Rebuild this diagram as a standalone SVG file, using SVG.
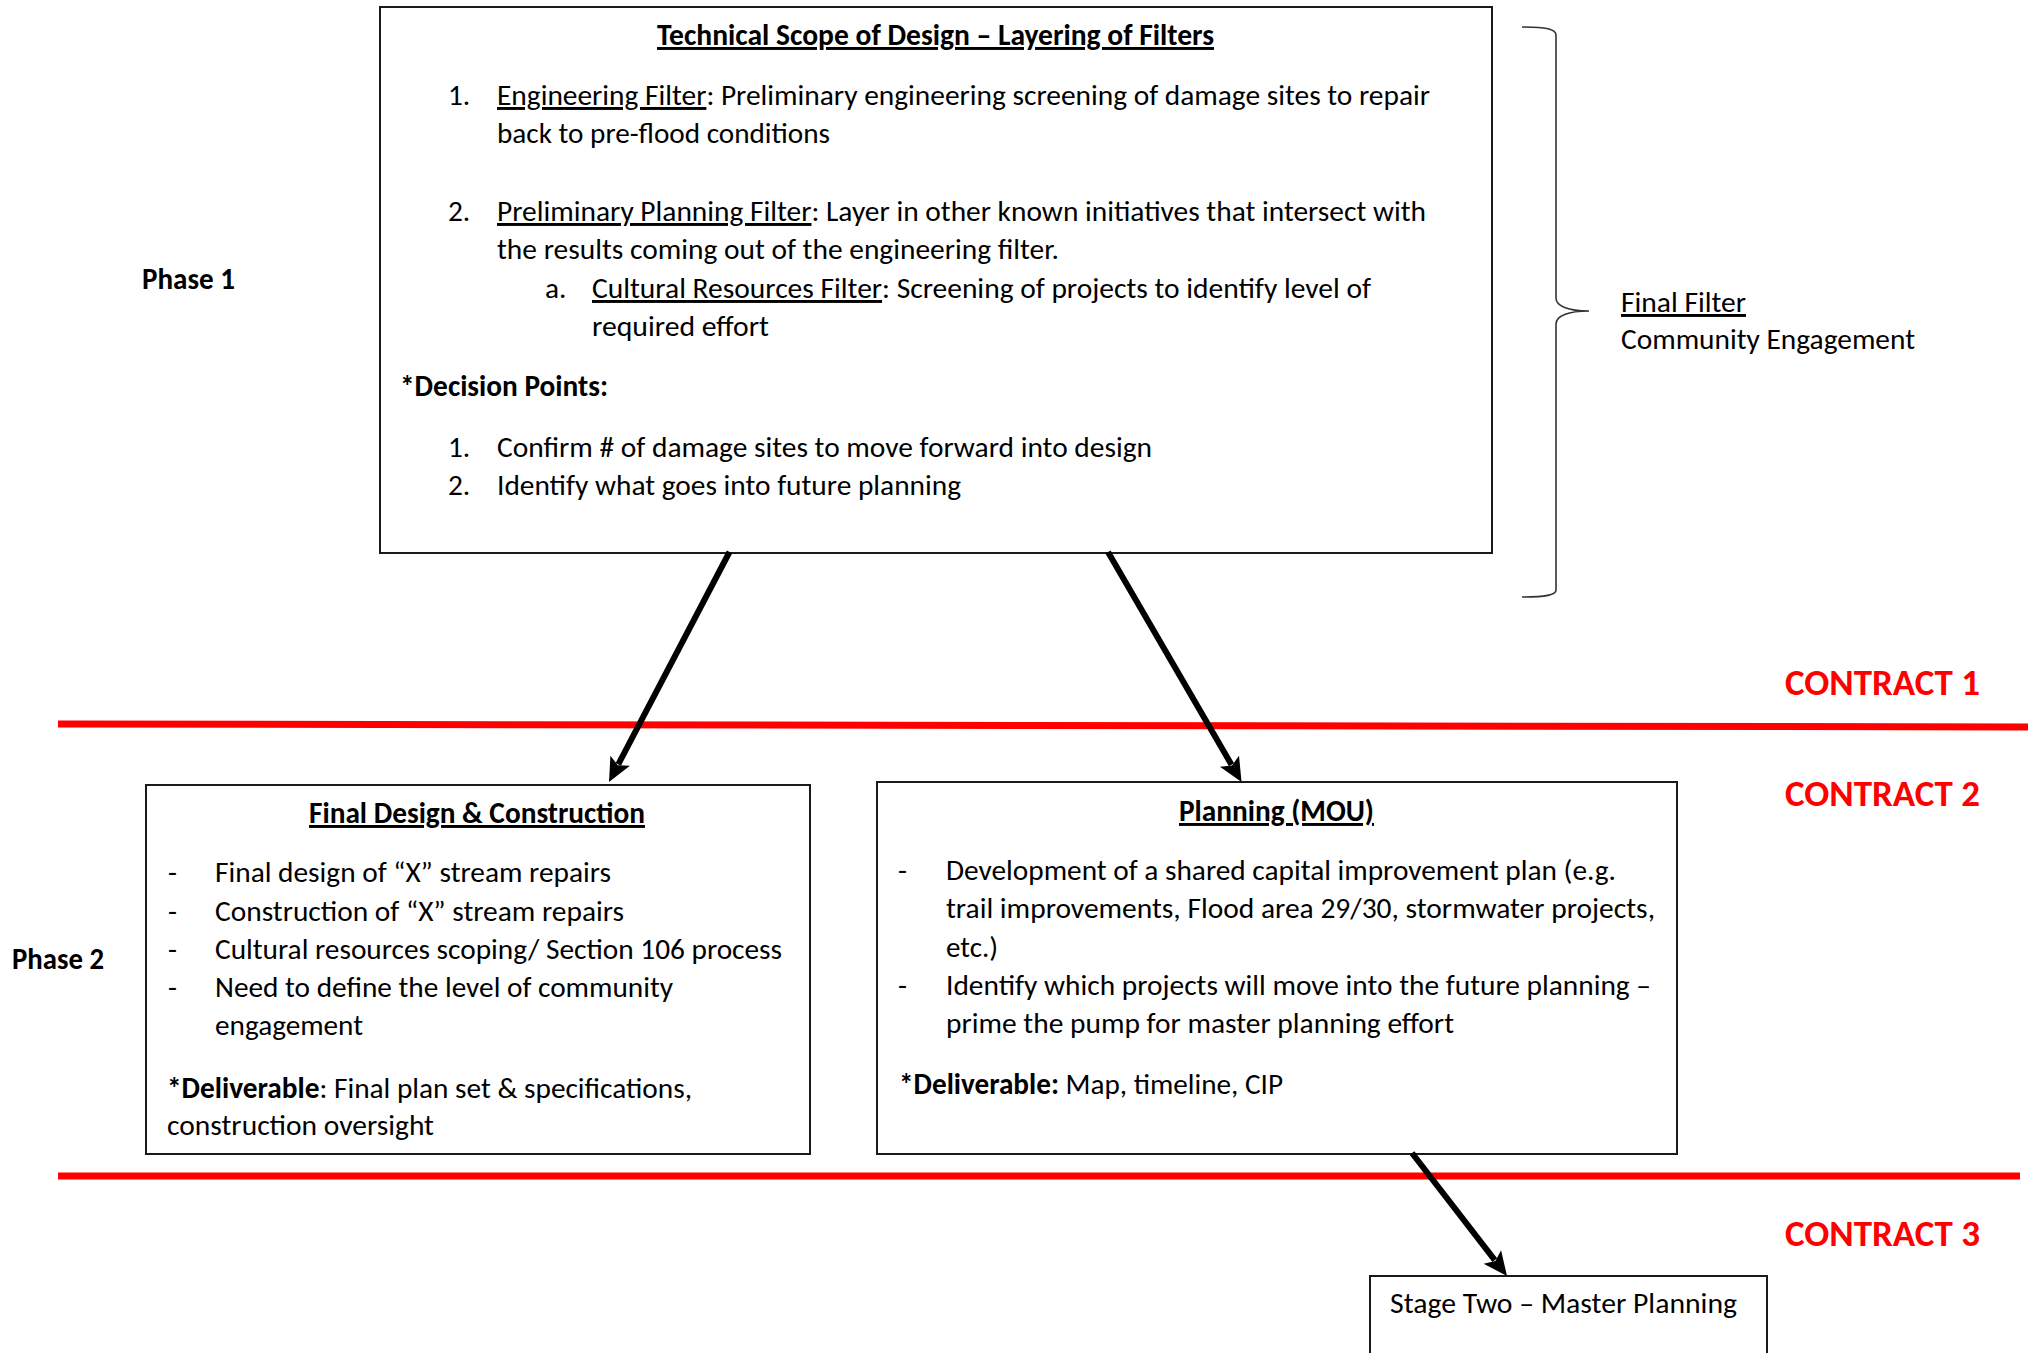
<svg xmlns="http://www.w3.org/2000/svg" width="2028" height="1353" viewBox="0 0 2028 1353">
<style>
.t{font-family:Carlito,Calibri,"Open Sans","Liberation Sans",sans-serif;font-size:29.3px;fill:#000}
.b{font-weight:bold}
.u{text-decoration:underline}
.c{font-family:Carlito,Calibri,"Open Sans","Liberation Sans",sans-serif;font-size:37px;font-weight:bold;fill:#ff0000}
.box{fill:#fff;stroke:#1a1a1a;stroke-width:2}
.red{stroke:#ff0000;stroke-width:7}
.arr{stroke:#000;stroke-width:6;fill:none;marker-end:url(#ah)}
.brace{fill:none;stroke:#333;stroke-width:1.6}
</style>
<defs>
<marker id="ah" markerUnits="userSpaceOnUse" markerWidth="30" markerHeight="30" refX="0" refY="0" orient="auto" overflow="visible">
<path d="M-4,-11 L20,0 L-4,11 L1,0 Z" fill="#000"/>
</marker>
</defs>
<rect width="2028" height="1353" fill="#fff"/>

<g id="contract-lines">
<line class="red" x1="58" y1="724" x2="2028" y2="727"/>
<line class="red" x1="58" y1="1176" x2="2020" y2="1176"/>
</g>

<g id="node-scope">
<rect class="box" x="380" y="7" width="1112" height="546"/>
<text class="t b u" x="657" y="45" textLength="557" lengthAdjust="spacingAndGlyphs">Technical Scope of Design – Layering of Filters</text>
<text class="t" x="448" y="105">1.</text>
<text class="t" x="497" y="105" textLength="933" lengthAdjust="spacingAndGlyphs"><tspan class="u">Engineering Filter</tspan>: Preliminary engineering screening of damage sites to repair</text>
<text class="t" x="497" y="143" textLength="333" lengthAdjust="spacingAndGlyphs">back to pre-flood conditions</text>
<text class="t" x="448" y="221">2.</text>
<text class="t" x="497" y="221" textLength="929" lengthAdjust="spacingAndGlyphs"><tspan class="u">Preliminary Planning Filter</tspan>: Layer in other known initiatives that intersect with</text>
<text class="t" x="497" y="259" textLength="562" lengthAdjust="spacingAndGlyphs">the results coming out of the engineering filter.</text>
<text class="t" x="545" y="298">a.</text>
<text class="t" x="592" y="298" textLength="779" lengthAdjust="spacingAndGlyphs"><tspan class="u">Cultural Resources Filter</tspan>: Screening of projects to identify level of</text>
<text class="t" x="592" y="336" textLength="177" lengthAdjust="spacingAndGlyphs">required effort</text>
<text class="t b" x="400" y="396" textLength="208" lengthAdjust="spacingAndGlyphs">*Decision Points:</text>
<text class="t" x="448" y="457">1.</text>
<text class="t" x="497" y="457" textLength="655" lengthAdjust="spacingAndGlyphs">Confirm # of damage sites to move forward into design</text>
<text class="t" x="448" y="495">2.</text>
<text class="t" x="497" y="495" textLength="464" lengthAdjust="spacingAndGlyphs">Identify what goes into future planning</text>
</g>

<g id="brace">
<path class="brace" d="M1522,27 C1546,27 1556,29 1556,35 L1556,298 C1556,306 1568,311 1589,311 C1568,311 1556,316 1556,324 L1556,590 C1556,595 1546,597 1522,597"/>
</g>

<g id="labels">
<text class="t b" x="142" y="289" textLength="93" lengthAdjust="spacingAndGlyphs">Phase 1</text>
<text class="t b" x="12" y="969" textLength="92" lengthAdjust="spacingAndGlyphs">Phase 2</text>
<text class="t u" x="1621" y="312" textLength="125" lengthAdjust="spacingAndGlyphs">Final Filter</text>
<text class="t" x="1621" y="349" textLength="294" lengthAdjust="spacingAndGlyphs">Community Engagement</text>
<text class="c" x="1785" y="695" textLength="195" lengthAdjust="spacingAndGlyphs">CONTRACT 1</text>
<text class="c" x="1785" y="806" textLength="195" lengthAdjust="spacingAndGlyphs">CONTRACT 2</text>
<text class="c" x="1785" y="1246" textLength="195" lengthAdjust="spacingAndGlyphs">CONTRACT 3</text>
</g>

<g id="node-final-design">
<rect class="box" x="146" y="785" width="664" height="369"/>
<text class="t b u" x="309" y="823" textLength="336" lengthAdjust="spacingAndGlyphs">Final Design &amp; Construction</text>
<text class="t" x="168" y="882">-</text>
<text class="t" x="215" y="882" textLength="396" lengthAdjust="spacingAndGlyphs">Final design of “X” stream repairs</text>
<text class="t" x="168" y="920.5">-</text>
<text class="t" x="215" y="920.5" textLength="409" lengthAdjust="spacingAndGlyphs">Construction of “X” stream repairs</text>
<text class="t" x="168" y="959">-</text>
<text class="t" x="215" y="959" textLength="567" lengthAdjust="spacingAndGlyphs">Cultural resources scoping/ Section 106 process</text>
<text class="t" x="168" y="997">-</text>
<text class="t" x="215" y="997" textLength="458" lengthAdjust="spacingAndGlyphs">Need to define the level of community</text>
<text class="t" x="215" y="1035" textLength="148" lengthAdjust="spacingAndGlyphs">engagement</text>
<text class="t" x="167" y="1098" textLength="525" lengthAdjust="spacingAndGlyphs"><tspan class="b">*Deliverable</tspan>: Final plan set &amp; specifications,</text>
<text class="t" x="167" y="1135" textLength="267" lengthAdjust="spacingAndGlyphs">construction oversight</text>
</g>

<g id="node-planning">
<rect class="box" x="877" y="782" width="800" height="372"/>
<text class="t b u" x="1179" y="821" textLength="195" lengthAdjust="spacingAndGlyphs">Planning (MOU)</text>
<text class="t" x="898" y="880">-</text>
<text class="t" x="946" y="880" textLength="670" lengthAdjust="spacingAndGlyphs">Development of a shared capital improvement plan (e.g.</text>
<text class="t" x="946" y="918" textLength="709" lengthAdjust="spacingAndGlyphs">trail improvements, Flood area 29/30, stormwater projects,</text>
<text class="t" x="946" y="957" textLength="52" lengthAdjust="spacingAndGlyphs">etc.)</text>
<text class="t" x="898" y="995">-</text>
<text class="t" x="946" y="995" textLength="705" lengthAdjust="spacingAndGlyphs">Identify which projects will move into the future planning –</text>
<text class="t" x="946" y="1032.5" textLength="508" lengthAdjust="spacingAndGlyphs">prime the pump for master planning effort</text>
<text class="t" x="899" y="1094" textLength="384" lengthAdjust="spacingAndGlyphs"><tspan class="b">*Deliverable:</tspan> Map, timeline, CIP</text>
</g>

<g id="node-stage-two">
<rect class="box" x="1370" y="1276" width="397" height="100"/>
<text class="t" x="1390" y="1313" textLength="347" lengthAdjust="spacingAndGlyphs">Stage Two – Master Planning</text>
</g>

<g id="connectors">
<line class="arr" x1="729.5" y1="552" x2="618.3" y2="764.3"/>
<line class="arr" x1="1108" y1="552" x2="1231.5" y2="764.7"/>
<line class="arr" x1="1412" y1="1153" x2="1494.8" y2="1260.2"/>
</g>
</svg>
